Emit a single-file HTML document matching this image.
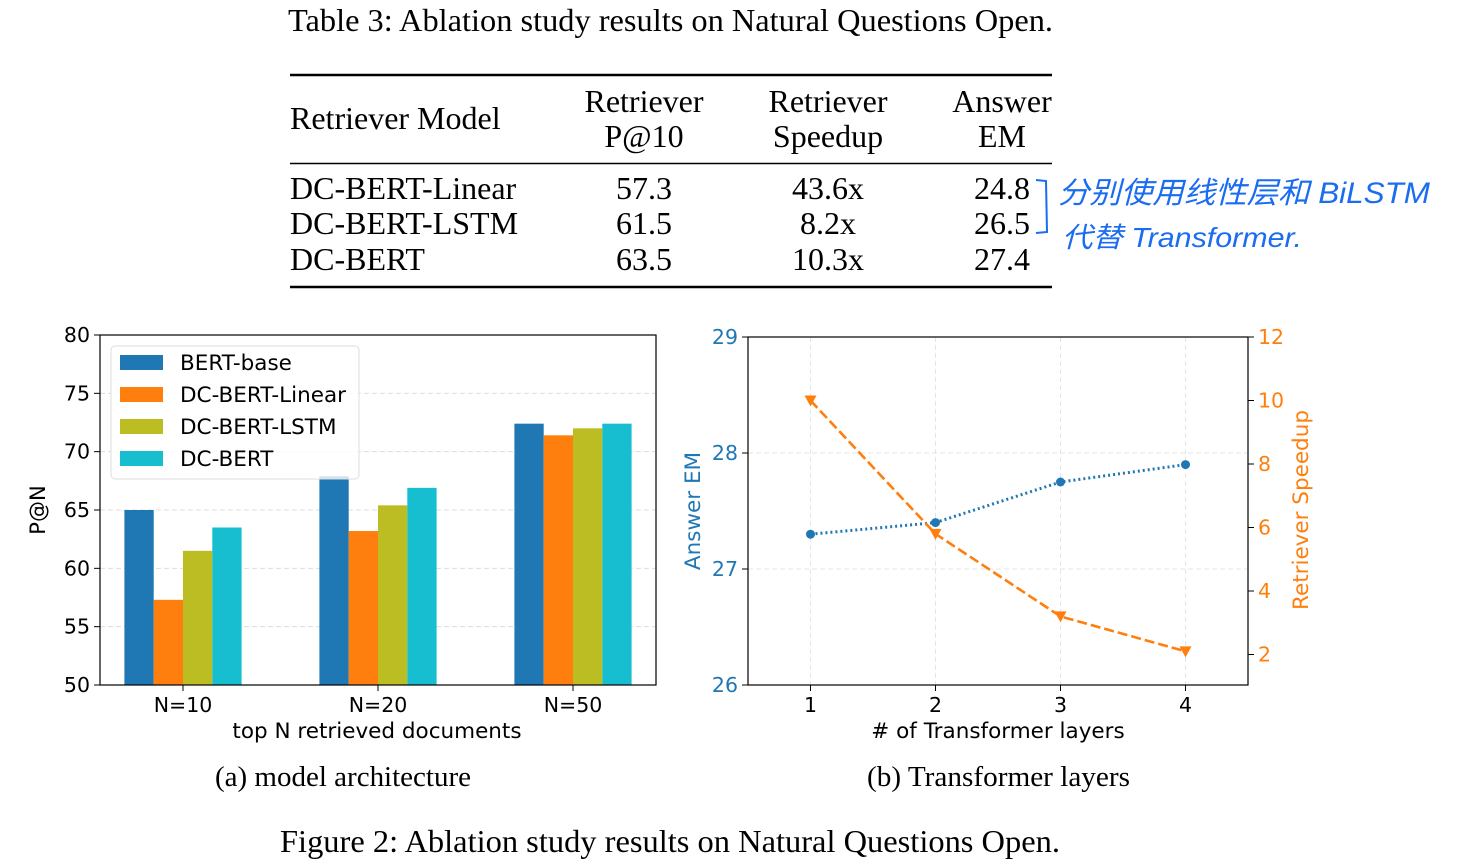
<!DOCTYPE html>
<html><head><meta charset="utf-8"><style>
body{margin:0;background:#fff;}
svg{display:block;}
.serif{font-family:"Liberation Serif",serif;fill:#000;}
.dj{font-family:"DejaVu Sans","Liberation Sans",sans-serif;}
</style></head><body>
<svg id="root" width="1458" height="868" viewBox="0 0 1458 868" xmlns="http://www.w3.org/2000/svg">
<text class="serif" x="288" y="31" font-size="32" textLength="765" lengthAdjust="spacingAndGlyphs">Table 3: Ablation study results on Natural Questions Open.</text>
<g>
<line x1="290" y1="75" x2="1052" y2="75" stroke="#000" stroke-width="2.5"/>
<line x1="290" y1="163.5" x2="1052" y2="163.5" stroke="#000" stroke-width="1.5"/>
<line x1="290" y1="287" x2="1052" y2="287" stroke="#000" stroke-width="2.5"/>
<g class="serif" font-size="32">
<text x="290" y="129">Retriever Model</text>
<text x="644" y="112" text-anchor="middle">Retriever</text>
<text x="644" y="147" text-anchor="middle">P@10</text>
<text x="828" y="112" text-anchor="middle">Retriever</text>
<text x="828" y="147" text-anchor="middle">Speedup</text>
<text x="1002" y="112" text-anchor="middle">Answer</text>
<text x="1002" y="147" text-anchor="middle">EM</text>
<text x="290" y="199">DC-BERT-Linear</text>
<text x="644" y="199" text-anchor="middle">57.3</text><text x="828" y="199" text-anchor="middle">43.6x</text><text x="1002" y="199" text-anchor="middle">24.8</text>
<text x="290" y="234">DC-BERT-LSTM</text>
<text x="644" y="234" text-anchor="middle">61.5</text><text x="828" y="234" text-anchor="middle">8.2x</text><text x="1002" y="234" text-anchor="middle">26.5</text>
<text x="290" y="270">DC-BERT</text>
<text x="644" y="270" text-anchor="middle">63.5</text><text x="828" y="270" text-anchor="middle">10.3x</text><text x="1002" y="270" text-anchor="middle">27.4</text>
</g></g>
<g fill="#1a6cf0" font-family="Liberation Sans, 'Noto Sans CJK SC', sans-serif" font-style="italic">
<path d="M1036 180 L1046 181 L1047 232 L1036 233" stroke="#1a6cf0" stroke-width="2" fill="none"/>
<text x="1058" y="203" font-size="30" textLength="372" lengthAdjust="spacingAndGlyphs">分别使用线性层和 BiLSTM</text>
<text x="1062" y="247" font-size="28" textLength="240" lengthAdjust="spacingAndGlyphs">代替 Transformer.</text>
</g>
<g id="barChart"></g>
<g id="lineChart"></g>
<text class="serif" x="215" y="786" font-size="29" textLength="256" lengthAdjust="spacingAndGlyphs">(a) model architecture</text>
<text class="serif" x="867" y="786" font-size="29" textLength="263" lengthAdjust="spacingAndGlyphs">(b) Transformer layers</text>
<text class="serif" x="280" y="852" font-size="32" textLength="780" lengthAdjust="spacingAndGlyphs">Figure 2: Ablation study results on Natural Questions Open.</text>
</svg>
<script>
const barCategories=["N=10","N=20","N=50"];
const barSeriesNames=["BERT-base","DC-BERT-Linear","DC-BERT-LSTM","DC-BERT"];
const bertBase=[65.0,67.9,72.4];
const dcLinear=[57.3,63.2,71.4];
const dcLstm=[61.5,65.4,72.0];
const dcBert=[63.5,66.9,72.4];
const barYTicks=[50,55,60,65,70,75,80];
const layerCategories=[1,2,3,4];
const answerEM=[27.3,27.4,27.75,27.9];
const speedup=[10.0,5.8,3.2,2.1];
const emTicks=[26,27,28,29];
const speedTicks=[2,4,6,8,10,12];

const NS="http://www.w3.org/2000/svg";
function mk(parent,tag,attrs,text){const e=document.createElementNS(NS,tag);for(const k in attrs)e.setAttribute(k,attrs[k]);if(text!==undefined)e.textContent=text;parent.appendChild(e);return e;}
const colors=["#1f77b4","#ff7f0e","#bcbd22","#17becf"];

(function(){
const g=document.getElementById('barChart');
const L=100,R=656,T=335,B=685;
const y=v=>B-(v-50)/30*(B-T);
const xc=i=>183+i*195;
const bw=29.3;
barYTicks.forEach(t=>{
 if(t>50&&t<80){const gl=mk(g,'line',{x1:L,x2:R,y1:y(t),y2:y(t),stroke:'#ddd','stroke-dasharray':'5,3','stroke-width':1});
 
 }
 mk(g,'line',{x1:L-6,x2:L,y1:y(t),y2:y(t),stroke:'#000'});
 const tl=mk(g,'text',{x:L-10,y:y(t)+7,'font-size':20.5,'text-anchor':'end',class:'dj'},t);
 
 
});
const series=[bertBase,dcLinear,dcLstm,dcBert];
series.forEach((s,si)=>{s.forEach((v,ci)=>{
 const r=mk(g,'rect',{x:xc(ci)-2*bw+si*bw,y:y(v),width:bw,height:B-y(v),fill:colors[si]});
 
 
});});
barCategories.forEach((c,i)=>{
 mk(g,'line',{x1:xc(i),x2:xc(i),y1:B,y2:B+6,stroke:'#000'});
 const t=mk(g,'text',{x:xc(i),y:B+27,'font-size':20.5,'text-anchor':'middle',class:'dj'},c);
 
 
});
mk(g,'rect',{x:L,y:T,width:R-L,height:B-T,fill:'none',stroke:'#000','stroke-width':1.2});
const xt=mk(g,'text',{x:377,y:738,'font-size':21.5,'text-anchor':'middle',class:'dj'},'top N retrieved documents');


const yt=mk(g,'text',{x:0,y:0,'font-size':21,'text-anchor':'middle',class:'dj',transform:'translate(45,510) rotate(-90)'},'P@N');


const lg=mk(g,'g',{});


mk(lg,'rect',{x:111,y:346,width:248,height:133,rx:4,fill:'rgba(255,255,255,0.8)',stroke:'#ddd'});
barSeriesNames.forEach((n,i)=>{
 const ey=362+i*32;
 mk(lg,'rect',{x:120,y:ey-7,width:43,height:15,fill:colors[i]});
 const t=mk(lg,'text',{x:180,y:ey+8,'font-size':21.5,class:'dj'},n);
 
 
});
})();

(function(){
const g=document.getElementById('lineChart');
const L=748,R=1248,T=337,B=685;
const x=v=>L+(v-0.5)/4*(R-L);
const yl=v=>B-(v-26)/3*(B-T);
const yr=v=>B-(v-1.04)/(12-1.04)*(B-T);
const blue="#1f77b4",orange="#ff7f0e";
layerCategories.forEach(c=>{
 mk(g,'line',{x1:x(c),x2:x(c),y1:T,y2:B,stroke:'#e5e5e5','stroke-dasharray':'5,3'});
 mk(g,'line',{x1:x(c),x2:x(c),y1:B,y2:B+6,stroke:'#000'});
 const t=mk(g,'text',{x:x(c),y:B+27,'font-size':20.5,'text-anchor':'middle',class:'dj'},c);
 
 
});
emTicks.forEach(t=>{
 if(t>26&&t<29)mk(g,'line',{x1:L,x2:R,y1:yl(t),y2:yl(t),stroke:'#e5e5e5','stroke-dasharray':'5,3'});
 mk(g,'line',{x1:L-6,x2:L,y1:yl(t),y2:yl(t),stroke:'#000'});
 const e=mk(g,'text',{x:L-10,y:yl(t)+7,'font-size':20.5,'text-anchor':'end',fill:blue,class:'dj'},t);
 
 
});
speedTicks.forEach(t=>{
 mk(g,'line',{x1:R,x2:R+6,y1:yr(t),y2:yr(t),stroke:'#000'});
 const e=mk(g,'text',{x:R+10,y:yr(t)+7,'font-size':20.5,fill:orange,class:'dj'},t);
 
 
});
const ep=mk(g,'polyline',{points:layerCategories.map((c,i)=>x(c)+','+yl(answerEM[i])).join(' '),fill:'none',stroke:blue,'stroke-width':3,'stroke-dasharray':'2,3'});


layerCategories.forEach((c,i)=>{
 const p=mk(g,'circle',{cx:x(c),cy:yl(answerEM[i]),r:4.5,fill:blue});
 
 
});
const sp=mk(g,'polyline',{points:layerCategories.map((c,i)=>x(c)+','+yr(speedup[i])).join(' '),fill:'none',stroke:orange,'stroke-width':2.6,'stroke-dasharray':'10,4'});


layerCategories.forEach((c,i)=>{
 const cx=x(c),cy=yr(speedup[i]);
 const p=mk(g,'polygon',{points:(cx-6)+','+(cy-5)+' '+(cx+6)+','+(cy-5)+' '+cx+','+(cy+6),fill:orange});
 
 
});
mk(g,'rect',{x:L,y:T,width:R-L,height:B-T,fill:'none',stroke:'#000','stroke-width':1.2});
const xt=mk(g,'text',{x:998,y:738,'font-size':21.5,'text-anchor':'middle',class:'dj'},'# of Transformer layers');


const yt=mk(g,'text',{x:0,y:0,'font-size':21.5,'text-anchor':'middle',fill:blue,class:'dj',transform:'translate(700,511) rotate(-90)'},'Answer EM');


const rt=mk(g,'text',{x:0,y:0,'font-size':21.5,'text-anchor':'middle',fill:orange,class:'dj',transform:'translate(1308,510) rotate(-90)'},'Retriever Speedup');


})();
</script>
</body></html>
